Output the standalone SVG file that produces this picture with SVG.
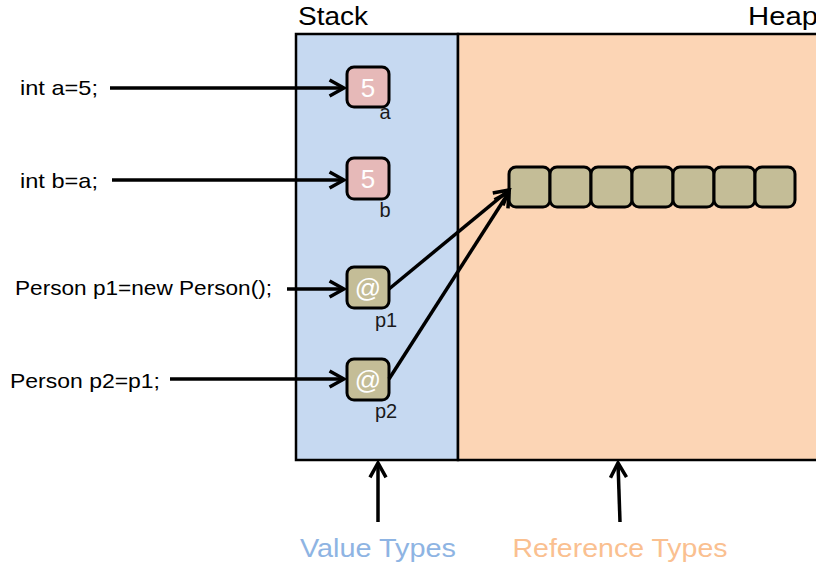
<svg xmlns="http://www.w3.org/2000/svg" width="816" height="567" viewBox="0 0 816 567">
<style>
.t{font-family:"Liberation Sans",Arial,sans-serif;fill:#000}
.code{font-size:21px}
.cell{stroke:#000;stroke-width:3}
.val{fill:#e6b9b8}
.ref{fill:#c4bd97}
.glyph{font-family:"Liberation Sans",Arial,sans-serif;font-size:26px;fill:#fff;text-anchor:middle}
.lbl{font-family:"Liberation Sans",Arial,sans-serif;font-size:20px;fill:#1a1a1a;text-anchor:middle}
.con line{stroke:#000;stroke-width:3.5;fill:none}
</style>
<defs>
<marker id="ah" viewBox="0 0 12 12" refX="10" refY="6" markerWidth="5.5" markerHeight="5.5" orient="auto" markerUnits="strokeWidth">
<path d="M1,1 L10,6 L1,11" fill="none" stroke="#000" stroke-width="2.2" stroke-linejoin="miter"/>
</marker>
</defs>
<rect width="816" height="567" fill="#fff"/>
<g id="stack">
<rect x="296" y="34" width="162" height="426" fill="#c6d9f1" stroke="#000" stroke-width="2.5"/>
<text class="t" x="298" y="25" font-size="25" textLength="70" lengthAdjust="spacingAndGlyphs">Stack</text>
</g>
<g id="heap">
<rect x="458" y="34" width="362" height="426" fill="#fcd5b5" stroke="#000" stroke-width="2.5"/>
<text class="t" x="748" y="25" font-size="25" textLength="70" lengthAdjust="spacingAndGlyphs">Heap</text>
</g>
<g id="code-a"><text class="t code" x="20" y="95" textLength="78" lengthAdjust="spacingAndGlyphs">int a=5;</text></g>
<g id="code-b"><text class="t code" x="20" y="188" textLength="78" lengthAdjust="spacingAndGlyphs">int b=a;</text></g>
<g id="code-p1"><text class="t code" x="15" y="295" textLength="257" lengthAdjust="spacingAndGlyphs">Person p1=new Person();</text></g>
<g id="code-p2"><text class="t code" x="10" y="388" textLength="150" lengthAdjust="spacingAndGlyphs">Person p2=p1;</text></g>
<g id="var-a">
<rect class="cell val" x="347" y="67" width="42" height="40" rx="7"/>
<text class="glyph" x="368" y="97">5</text>
<text class="lbl" x="385" y="119">a</text>
</g>
<g id="var-b">
<rect class="cell val" x="347" y="158" width="42" height="41" rx="7"/>
<text class="glyph" x="368" y="188">5</text>
<text class="lbl" x="385" y="217">b</text>
</g>
<g id="var-p1">
<rect class="cell ref" x="347" y="267" width="42" height="41" rx="7"/>
<text class="glyph" x="368" y="297">@</text>
<text class="lbl" x="386" y="327">p1</text>
</g>
<g id="var-p2">
<rect class="cell ref" x="347" y="359" width="42" height="41" rx="7"/>
<text class="glyph" x="368" y="389">@</text>
<text class="lbl" x="386" y="418">p2</text>
</g>
<g id="object">
<rect class="cell ref" x="509" y="167" width="41" height="40" rx="7"/>
<rect class="cell ref" x="550" y="167" width="41" height="40" rx="7"/>
<rect class="cell ref" x="591" y="167" width="41" height="40" rx="7"/>
<rect class="cell ref" x="632" y="167" width="41" height="40" rx="7"/>
<rect class="cell ref" x="673" y="167" width="41" height="40" rx="7"/>
<rect class="cell ref" x="714" y="167" width="41" height="40" rx="7"/>
<rect class="cell ref" x="755" y="167" width="40" height="40" rx="7"/>
</g>
<g id="label-value"><text x="378" y="557" font-family="Liberation Sans,Arial,sans-serif" font-size="25" fill="#8eb4e3" text-anchor="middle" textLength="156" lengthAdjust="spacingAndGlyphs">Value Types</text></g>
<g id="label-ref"><text x="620" y="557" font-family="Liberation Sans,Arial,sans-serif" font-size="25" fill="#fac090" text-anchor="middle" textLength="215" lengthAdjust="spacingAndGlyphs">Reference Types</text></g>
<g id="connectors" class="con">
<line x1="110" y1="88" x2="344" y2="88" marker-end="url(#ah)"/>
<line x1="112" y1="180" x2="344" y2="180" marker-end="url(#ah)"/>
<line x1="287" y1="289" x2="344" y2="289" marker-end="url(#ah)"/>
<line x1="170" y1="379" x2="344" y2="379" marker-end="url(#ah)"/>
<line x1="389" y1="289" x2="509" y2="190" marker-end="url(#ah)"/>
<line x1="389" y1="379" x2="509" y2="192" marker-end="url(#ah)"/>
<line x1="378" y1="522" x2="378" y2="463" marker-end="url(#ah)"/>
<line x1="620" y1="522" x2="618" y2="463" marker-end="url(#ah)"/>
</g>
</svg>
